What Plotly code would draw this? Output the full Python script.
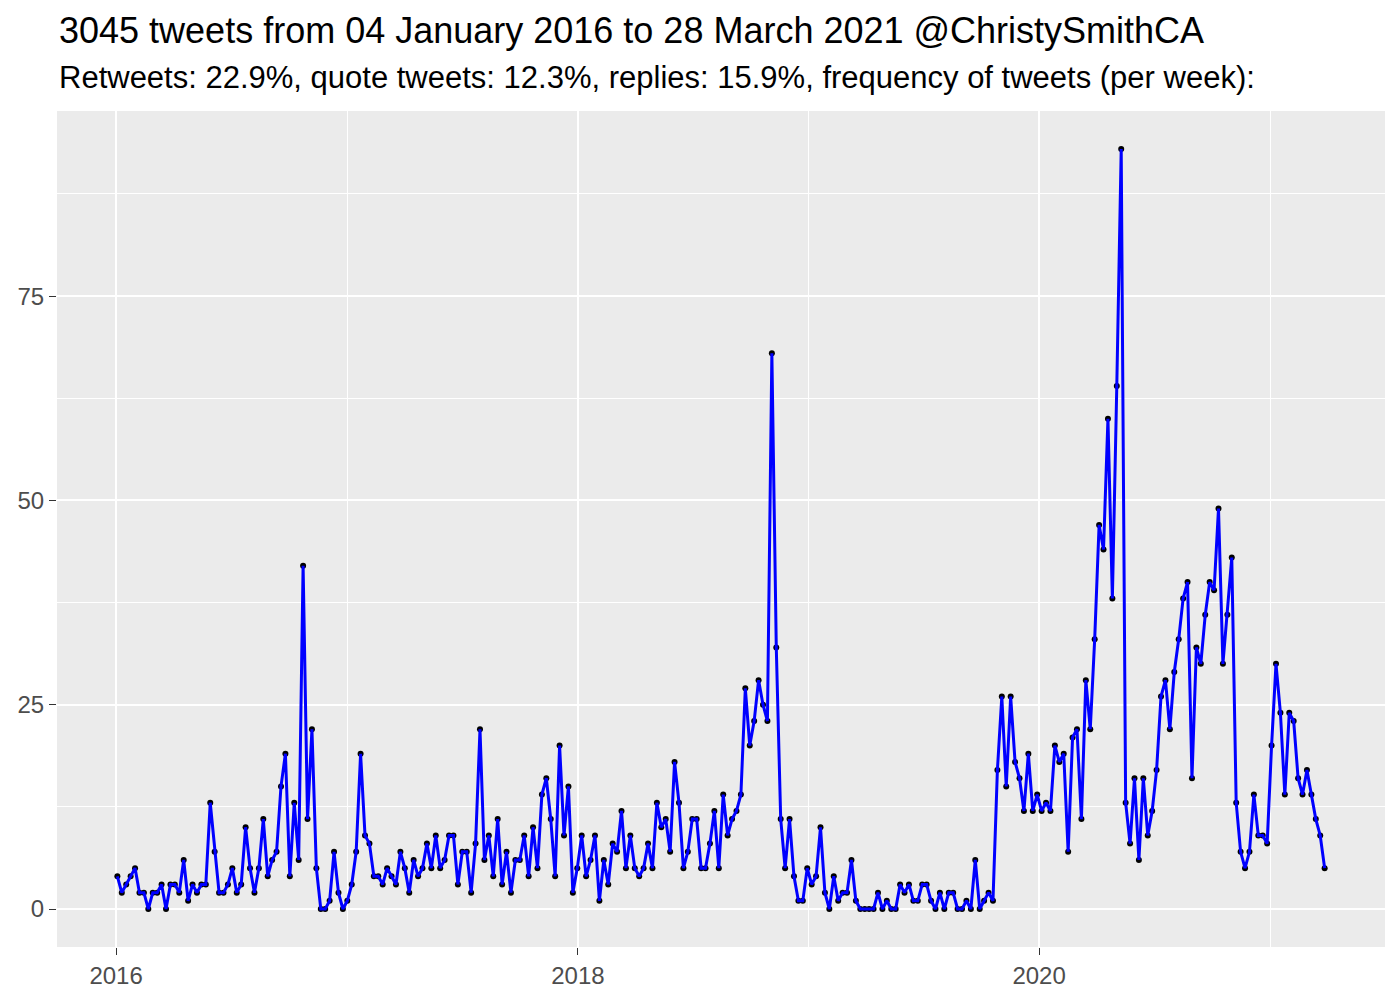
import pandas as pd
import plotly.graph_objects as go

# weekly tweet counts, 52 weeks per block, first week starting 2016-01-03
first_week = "2016-01-03"
counts_2016 = [4, 2, 3, 4, 5, 2, 2, 0, 2, 2, 3, 0, 3, 3, 2, 6, 1, 3, 2, 3, 3, 13, 7, 2, 2, 3,
               5, 2, 3, 10, 5, 2, 5, 11, 4, 6, 7, 15, 19, 4, 13, 6, 42, 11, 22, 5, 0, 0, 1, 7, 2, 0]
counts_2017 = [1, 3, 7, 19, 9, 8, 4, 4, 3, 5, 4, 3, 7, 5, 2, 6, 4, 5, 8, 5, 9, 5, 6, 9, 9, 3,
               7, 7, 2, 8, 22, 6, 9, 4, 11, 3, 7, 2, 6, 6, 9, 4, 10, 5, 14, 16, 11, 4, 20, 9, 15, 2]
counts_2018 = [5, 9, 4, 6, 9, 1, 6, 3, 8, 7, 12, 5, 9, 5, 4, 5, 8, 5, 13, 10, 11, 7, 18, 13, 5, 7,
               11, 11, 5, 5, 8, 12, 5, 14, 9, 11, 12, 14, 27, 20, 23, 28, 25, 23, 68, 32, 11, 5, 11, 4, 1, 1]
counts_2019 = [5, 3, 4, 10, 2, 0, 4, 1, 2, 2, 6, 1, 0, 0, 0, 0, 2, 0, 1, 0, 0, 3, 2, 3, 1, 1,
               3, 3, 1, 0, 2, 0, 2, 2, 0, 0, 1, 0, 6, 0, 1, 2, 1, 17, 26, 15, 26, 18, 16, 12, 19, 12]
counts_2020 = [14, 12, 13, 12, 20, 18, 19, 7, 21, 22, 11, 28, 22, 33, 47, 44, 60, 38, 64, 93, 13, 8, 16, 6, 16, 9,
               12, 17, 26, 28, 22, 29, 33, 38, 40, 16, 32, 30, 36, 40, 39, 49, 30, 36, 43, 13, 7, 5, 7, 14, 9, 9]
counts_2021 = [8, 20, 30, 24, 14, 24, 23, 16, 14, 17, 14, 11, 9, 5]

y_ticks = [0, 25, 50, 75]
y_minor = [12.5, 37.5, 62.5, 87.5]
x_ticks = ["2016-01-01", "2018-01-01", "2020-01-01"]
x_tick_labels = ["2016", "2018", "2020"]
x_minor = ["2017-01-01", "2019-01-01", "2021-01-01"]

title_text = "3045 tweets from 04 January 2016 to 28 March 2021 @ChristySmithCA"
subtitle_text = ("Retweets: 22.9%, quote tweets: 12.3%, replies: 15.9%, "
                 "frequency of tweets (per week):")

counts = counts_2016 + counts_2017 + counts_2018 + counts_2019 + counts_2020 + counts_2021
weeks = pd.date_range(first_week, periods=len(counts), freq="7D")
df = pd.DataFrame({"week": weeks, "n": counts})

# ggplot-style 5% expansion
span = df["week"].max() - df["week"].min()
x_range = [df["week"].min() - span * 0.05, df["week"].max() + span * 0.05]
y_pad = (max(counts) - min(counts)) * 0.05
y_range = [min(counts) - y_pad, max(counts) + y_pad]

font = "Liberation Sans, Arial, sans-serif"

fig = go.Figure()
fig.add_trace(go.Scatter(x=df["week"], y=df["n"], mode="markers",
                         marker={"color": "black", "size": 6}, hoverinfo="skip"))
fig.add_trace(go.Scatter(x=df["week"], y=df["n"], mode="lines",
                         line={"color": "#0000FF", "width": 3}))

axis_common = {
    "showline": False,
    "zeroline": False,
    "automargin": False,
    "ticks": "outside",
    "ticklen": 7,
    "tickwidth": 1.4,
    "tickcolor": "#333333",
    "gridcolor": "white",
    "gridwidth": 2,
    "tickfont": {"size": 24, "color": "#4D4D4D", "family": font},
}

# page body has an 8px margin, so the figure is a little smaller than the window
fig.update_layout(
    width=1384,
    height=984,
    showlegend=False,
    paper_bgcolor="white",
    plot_bgcolor="#EBEBEB",
    margin={"l": 49, "r": 7, "t": 103, "b": 45},
    font={"family": font},
    xaxis={
        **axis_common,
        "range": x_range,
        "tickvals": x_ticks,
        "ticktext": x_tick_labels,
        "minor": {"tickvals": x_minor, "showgrid": True, "gridcolor": "white",
                  "gridwidth": 1, "ticks": ""},
    },
    yaxis={
        **axis_common,
        "range": y_range,
        "tickvals": y_ticks,
        "minor": {"tickvals": y_minor, "showgrid": True, "gridcolor": "white",
                  "gridwidth": 1, "ticks": ""},
    },
    annotations=[
        {"text": title_text, "xref": "paper", "yref": "paper", "x": 0, "y": 1.096,
         "xanchor": "left", "yanchor": "middle", "showarrow": False,
         "font": {"size": 36, "color": "black", "family": font}},
        {"text": subtitle_text, "xref": "paper", "yref": "paper", "x": 0, "y": 1.04,
         "xanchor": "left", "yanchor": "middle", "showarrow": False,
         "font": {"size": 31, "color": "black", "family": font}},
    ],
)

fig.write_html("out.html")
